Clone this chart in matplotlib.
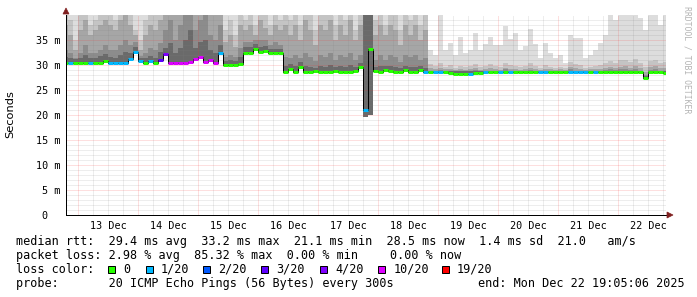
import numpy as np
import matplotlib
matplotlib.use("Agg")
import matplotlib.pyplot as plt
import matplotlib.dates as mdates
from matplotlib.patches import Polygon, Rectangle
from datetime import datetime, timedelta

# ---------------- data ----------------
bin_start = datetime(2025, 12, 12, 18, 0)   # first 2-hour bin
bin_hours = 2
end_time = datetime(2025, 12, 22, 19, 5, 6)
span_days = 10

# median rtt per bin (ms)
median_ms = [
    30.4, 30.4, 30.4, 30.4, 30.5, 30.4, 30.4, 30.5, 30.8, 30.4, 30.4, 30.4, 30.5, 31.2, 32.6,
    30.9, 30.4, 30.9, 30.4, 31.0, 32.3, 30.4, 30.5, 30.4, 30.5, 30.6, 31.3, 31.6, 30.6, 31.0, 30.5, 32.5,
    30.1, 30.1, 30.1, 30.2, 32.5, 32.5, 33.2, 32.6, 32.9, 32.5, 32.5, 32.4,
    28.7, 29.3, 28.7, 29.6, 28.7, 28.7, 28.8, 28.7, 28.7, 28.7, 28.8, 28.7, 28.7, 28.7, 28.8, 29.7,
    21.1, 33.2, 28.8, 28.7, 29.0, 28.9, 28.7, 28.7, 29.0, 28.7, 28.7, 29.1, 28.6,
    28.6, 28.6, 28.6, 28.6, 28.5, 28.3, 28.3, 28.3, 28.3, 28.4, 28.5, 28.6, 28.6, 28.6, 28.6, 28.6,
    28.6, 28.6, 28.6, 28.6, 28.6, 28.6, 28.6, 28.6,
    28.6, 28.6, 28.6, 28.6, 28.6, 28.6, 28.6, 28.6, 28.6, 28.6, 28.6, 28.6, 28.6, 28.6, 28.6, 28.6,
    28.6, 28.6, 28.6, 27.4, 28.6, 28.6, 28.6, 28.5,
]

# lost pings (out of 20) per bin
loss_count = [
    0, 1, 0, 0, 0, 1, 0, 0, 0, 1, 1, 1, 1, 1, 1,
    1, 0, 1, 0, 3, 4, 10, 10, 10, 10, 10, 10, 10, 10, 10, 10, 1,
    0, 0, 0, 0, 0, 0, 0, 0, 0, 0, 0, 0,
    0, 0, 0, 0, 0, 0, 0, 0, 0, 0, 0, 0, 0, 0, 0, 0,
    1, 0, 0, 0, 0, 0, 0, 0, 0, 0, 0, 0, 1,
    0, 1, 1, 0, 0, 0, 0, 0, 1, 0, 0, 1, 0, 0, 1, 0, 1, 0, 0, 0, 0, 0, 1, 1,
    0, 0, 0, 0, 1, 1, 1, 1, 0, 1, 0, 0, 0, 0, 0, 0, 0, 0, 0, 0, 0, 0, 0, 0,
]

# smoke: sorted ping quantiles per bin (ms)
ping_low = [
    30.2, 30.2, 30.2, 30.2, 30.3, 30.2, 30.2, 30.3, 30.6, 30.2, 30.2, 30.2, 30.3, 31.0, 32.4,
    30.7, 30.2, 30.7, 30.2, 30.8, 32.1, 30.2, 30.3, 30.2, 30.3, 30.4, 31.1, 31.4, 30.4, 30.8, 30.3, 32.3,
    29.9, 29.9, 29.9, 30.0, 32.3, 32.3, 33.0, 32.4, 32.7, 32.3, 32.3, 32.2,
    28.5, 29.1, 28.5, 29.4, 28.5, 28.5, 28.6, 28.5, 28.5, 28.5, 28.6, 28.5, 28.5, 28.5, 28.6, 29.5,
    19.6, 20.0, 28.6, 28.5, 28.8, 28.7, 28.5, 28.5, 28.8, 28.5, 28.5, 28.9, 28.4,
    28.4, 28.4, 28.4, 28.4, 28.3, 28.1, 28.1, 28.1, 28.1, 28.2, 28.3, 28.4, 28.4, 28.4, 28.4, 28.4,
    28.4, 28.4, 28.4, 28.4, 28.4, 28.4, 28.4, 28.4,
    28.4, 28.4, 28.4, 28.4, 28.4, 28.4, 28.4, 28.4, 28.4, 28.4, 28.4, 28.4, 28.4, 28.4, 28.4, 28.4,
    28.4, 28.4, 28.4, 27.2, 28.4, 28.4, 28.4, 28.3,
]
ping_p55 = [
    31.6, 31.5, 31.1, 31.5, 32.0, 31.5, 31.4, 31.8, 32.3, 31.6, 31.5, 32.0, 32.6, 32.4, 33.6,
    31.3, 31.4, 31.9, 31.5, 32.6, 33.5, 34.5, 32.5, 33.5, 35.0, 37.0, 33.5, 34.5, 35.0, 33.0, 32.5, 34.0,
    30.8, 31.0, 30.8, 31.6, 33.5, 33.5, 34.2, 33.6, 33.9, 33.3, 33.3, 33.2,
    29.8, 30.2, 29.8, 30.5, 29.8, 29.7, 29.5, 29.8, 29.7, 30.0, 29.6, 29.8, 29.7, 30.0, 29.6, 30.4,
    45.0, 45.0, 29.6, 29.8, 29.8, 29.8, 29.6, 29.5, 29.9, 29.6, 29.7, 29.9, 29.4,
    28.8, 28.8, 28.8, 28.8, 28.8, 28.8, 28.8, 28.8, 28.8, 28.8, 28.8, 28.8, 28.8, 28.8, 28.8, 28.8,
    28.8, 28.8, 28.8, 28.8, 28.8, 28.8, 28.8, 28.8,
    28.8, 28.8, 28.8, 28.8, 28.8, 28.8, 28.8, 28.8, 28.8, 28.8, 28.8, 28.8, 28.8, 28.8, 28.8, 28.8,
    28.8, 28.8, 28.8, 27.8, 28.8, 28.8, 28.8, 28.8,
]
ping_p60 = [
    33.0, 32.5, 31.5, 32.5, 34.0, 32.5, 32.5, 33.0, 34.0, 33.0, 33.0, 34.0, 35.0, 34.0, 34.5,
    31.8, 32.5, 33.5, 33.0, 34.5, 37.0, 39.0, 35.0, 38.0, 41.0, 42.0, 37.0, 39.0, 41.0, 36.0, 35.0, 38.0,
    31.5, 32.0, 31.5, 33.5, 34.5, 34.5, 35.0, 35.0, 35.0, 34.0, 34.5, 34.0,
    31.5, 31.5, 32.0, 31.5, 32.5, 31.5, 30.8, 32.0, 31.5, 32.5, 31.0, 32.0, 31.5, 32.5, 31.0, 32.0,
    45.0, 45.0, 31.0, 32.0, 31.0, 32.0, 31.5, 30.5, 32.0, 31.5, 32.0, 31.0, 31.5,
    28.9, 28.9, 29.0, 28.9, 28.9, 28.9, 28.9, 28.9, 28.9, 29.0, 28.9, 28.9, 28.9, 28.9, 28.9, 29.1,
    28.9, 28.9, 28.9, 28.9, 29.0, 28.9, 28.9, 28.9,
    28.9, 28.9, 28.9, 28.9, 29.1, 28.9, 28.9, 28.9, 28.9, 28.9, 28.9, 29.0, 29.1, 29.0, 29.1, 29.1,
    29.0, 29.1, 28.9, 28.0, 29.0, 29.1, 28.9, 28.9,
]
ping_p75 = [
    38, 36, 33, 37, 39, 36, 37, 38, 39, 38, 37, 39, 40, 38, 36,
    33, 36, 38, 37, 39, 42, 43, 40, 42, 43, 43, 41, 42, 43, 41, 40, 42,
    34.5, 36, 33.5, 38, 37, 38, 36, 39, 37.5, 36, 38, 37,
    38, 36, 38, 35, 39, 37, 34, 38, 37, 39, 35, 38, 36, 39, 35, 38,
    45, 45, 36, 38, 36, 38, 37, 34, 38, 36, 38, 35, 37,
    29.3, 29.2, 29.4, 29.1, 29.3, 29.0, 29.2, 29.0, 29.2, 29.4, 29.1, 29.2, 29.3, 29.1, 29.0, 29.5,
    29.2, 29.1, 29.0, 29.2, 29.4, 29.1, 29.0, 29.2,
    29.1, 29.0, 29.1, 29.0, 29.6, 29.3, 29.2, 29.0, 29.1, 29.1, 29.2, 29.3, 29.6, 29.4, 29.7, 29.8,
    29.5, 29.9, 29.4, 28.6, 29.6, 29.8, 29.4, 29.4,
]
ping_p90 = [
    41, 39, 35, 40, 41, 38, 39, 41, 40, 41, 39, 41, 41, 40, 37,
    35, 39, 41, 40, 41, 45, 45, 45, 45, 45, 45, 45, 45, 45, 45, 45, 45,
    37, 39, 36, 41, 39, 41, 38, 41, 40, 38, 41, 39,
    41, 39, 41, 38, 41, 40, 37, 41, 40, 41, 38, 41, 39, 41, 37, 41,
    45, 45, 39, 41, 38, 41, 40, 37, 41, 39, 41, 38, 40,
    30.2, 29.8, 30.5, 29.6, 30.0, 29.5, 29.8, 29.6, 29.9, 30.3, 29.7, 29.9, 30.2, 29.8, 29.6, 30.5,
    30.0, 29.8, 29.6, 29.9, 30.4, 29.8, 29.5, 30.0,
    29.7, 29.5, 29.6, 29.4, 30.6, 30.2, 30.0, 29.5, 29.6, 29.8, 30.0, 30.3, 30.8, 30.4, 30.9, 31.0,
    30.7, 31.2, 30.5, 29.6, 30.8, 31.0, 30.5, 30.6,
]
ping_high = [
    45, 45, 45, 45, 45, 45, 45, 45, 45, 45, 45, 45, 45, 45, 45,
    45, 45, 45, 45, 45, 45, 45, 45, 45, 45, 45, 45, 45, 45, 45, 45, 45,
    45, 45, 45, 45, 45, 45, 45, 45, 45, 45, 45, 45,
    45, 45, 45, 45, 45, 45, 45, 45, 45, 45, 45, 45, 45, 45, 45, 45,
    45, 45, 45, 45, 45, 45, 45, 45, 45, 45, 45, 45, 45,
    33, 32, 41, 33, 34.5, 32, 35.6, 32.5, 33, 36.4, 33, 34.3, 35.6, 34, 34, 37.7,
    35.3, 36.4, 33, 33.7, 37.3, 34.3, 31.5, 34.4,
    32.4, 31.4, 32, 30.5, 36, 35.4, 35.4, 31.4, 32, 33, 34.4, 36, 41, 39, 41, 41,
    41, 41, 39.4, 37, 41, 41, 38, 40,
]

y_ticks = [0, 5, 10, 15, 20, 25, 30, 35]
y_tick_labels = ["0  ", "5 m", "10 m", "15 m", "20 m", "25 m", "30 m", "35 m"]

loss_levels = [0, 1, 2, 3, 4, 10, 19]
loss_labels = ["0", "1/20", "2/20", "3/20", "4/20", "10/20", "19/20"]
loss_colors = ["#26ff00", "#00b8ff", "#0059ff", "#5e00ff", "#7e00ff", "#dd00ff", "#ff0000"]

line_rtt = "median rtt:  29.4 ms avg  33.2 ms max  21.1 ms min  28.5 ms now  1.4 ms sd  21.0   am/s"
line_loss_a = "packet loss: 2.98 % avg  85.32 % max  0.00 % min"
line_loss_b = "0.00 % now"
line_color = "loss color:"
line_probe = "probe:       20 ICMP Echo Pings (56 Bytes) every 300s"
line_end = "end: Mon Dec 22 19:05:06 2025"

# ---------------- figure ----------------
W, H = 697, 297
fig = plt.figure(figsize=(W / 100, H / 100), dpi=100)
fig.patch.set_facecolor("white")
L, R, T, B = 66, 666, 15, 215
ax = fig.add_axes([L / W, 1 - B / H, (R - L) / W, (B - T) / H])
ax.set_facecolor("white")

n = len(median_ms)
times = [bin_start + timedelta(hours=bin_hours * i) for i in range(n)]
x = mdates.date2num(times)
w = bin_hours / 24.0
x0 = mdates.date2num(end_time - timedelta(days=span_days))
x1 = mdates.date2num(end_time)

lo = np.array(ping_low, float)
smoke_layers = [(ping_high, "#dddddd"), (ping_p90, "#c4c4c4"), (ping_p75, "#a6a6a6"),
                (ping_p60, "#8c8c8c"), (ping_p55, "#6a6a6a")]
for vals, col in smoke_layers:
    v = np.array(vals, float)
    ax.bar(x, v - lo, bottom=lo, width=w, align="edge", color=col,
           linewidth=0, antialiased=False, zorder=1)

# grid (dotted, translucent)
minor_c = (0.5, 0.5, 0.5, 0.28)
major_c = (0.95, 0.2, 0.2, 0.30)
for v in range(1, 40):
    ax.axhline(v, color=(major_c if v % 5 == 0 else minor_c), lw=0.72,
               linestyle=(0, (1, 1)), zorder=2)
t = datetime(2025, 12, 12, 0, 0)
while t <= end_time:
    xv = mdates.date2num(t)
    if xv > x0:
        ax.axvline(xv, color=(major_c if t.hour == 0 else minor_c), lw=0.72,
                   linestyle=(0, (1, 1)), zorder=2)
    t += timedelta(hours=6)

# median line
def loss_color(c):
    idx = max(i for i, lv in enumerate(loss_levels) if c >= lv)
    return loss_colors[idx]

edges = np.append(x, x[-1] + w)
ax.stairs(median_ms, edges, baseline=None, color="black", lw=0.72, zorder=3)
ax.hlines(median_ms, x, x + w, colors=[loss_color(c) for c in loss_count], lw=2.16, zorder=4)

ax.set_xlim(x0, x1)
ax.set_ylim(0, 40)
for s in ["top", "right"]:
    ax.spines[s].set_visible(False)
for s in ["left", "bottom"]:
    ax.spines[s].set_color("black")
    ax.spines[s].set_linewidth(0.72)
    ax.spines[s].set_zorder(5)

mono = "DejaVu Sans Mono"
ax.set_yticks(y_ticks)
ax.set_yticklabels(y_tick_labels, family=mono, fontsize=7.3)
noons = [datetime(2025, 12, d, 12) for d in range(13, 23)]
ax.set_xticks(mdates.date2num(noons))
ax.set_xticklabels([d.strftime("%d %b") for d in noons], family=mono, fontsize=7.3)
ax.tick_params(axis="y", length=0, pad=4.3)
ax.tick_params(axis="x", length=0, pad=4.3)

# arrows
def px(xp, yp):
    return (xp / W, 1 - yp / H)

arrow_c = "#7f1f1f"
fig.add_artist(Polygon([px(63, 14), px(69, 14), px(66, 8)], closed=True,
                       transform=fig.transFigure, facecolor=arrow_c, edgecolor=arrow_c, lw=0.5))
fig.add_artist(Polygon([px(667, 212), px(667, 218), px(673, 215)], closed=True,
                       transform=fig.transFigure, facecolor=arrow_c, edgecolor=arrow_c, lw=0.5))

# labels
fig.text(*px(10.5, 114), "Seconds", rotation=90, ha="center", va="center",
         family="DejaVu Sans", fontsize=8.2)
fig.text(*px(686.5, 60), "RRDTOOL / TOBI OETIKER", rotation=270, ha="center", va="center",
         family=mono, fontsize=5.9, color="#b4b4b4")

def ftxt(xp, yp, s):
    fig.text(*px(xp, yp), s, ha="left", va="baseline", family=mono, fontsize=8.5)

ftxt(16.5, 245.5, line_rtt)
ftxt(16.5, 259.2, line_loss_a)
ftxt(390, 259.2, line_loss_b)
ftxt(16.5, 272.9, line_color)
sw_x = [108.3, 145.7, 203.3, 261, 320, 378.3, 441.7]
for sx, col, lab in zip(sw_x, loss_colors, loss_labels):
    fig.add_artist(Rectangle(px(sx, 273), 7 / W, 7 / H, transform=fig.transFigure,
                             facecolor=col, edgecolor="black", lw=0.72))
    ftxt(sx + 15, 272.9, lab)
ftxt(16.5, 286.6, line_probe)
ftxt(478, 286.6, line_end)

fig.savefig("out.png", dpi=100, facecolor="white")
